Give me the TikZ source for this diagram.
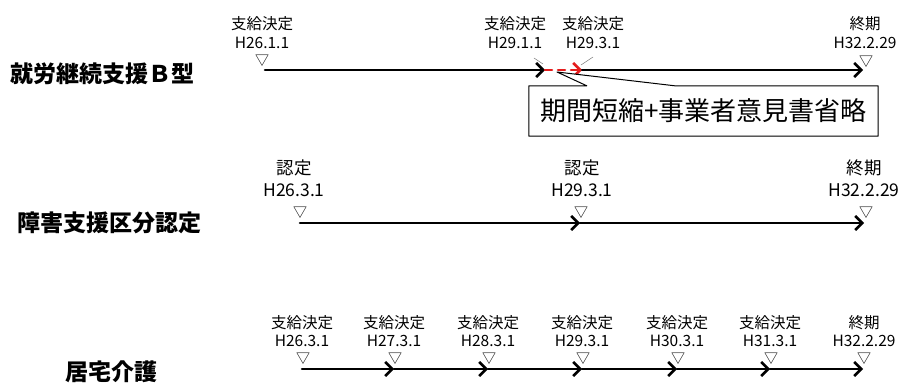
\documentclass[tikz,border=0pt]{standalone}
\usepackage{fontspec}
\setmainfont{Noto Sans CJK JP}
\usetikzlibrary{arrows.meta,calc}

\definecolor{cutred}{RGB}{228,28,28}
\definecolor{leadgray}{RGB}{120,120,120}

\tikzset{
  tline/.style={-{Straight Barb[length=7pt,width=14pt]},line width=2.6pt},
  cutline/.style={-{Straight Barb[length=7pt,width=14pt]},line width=2.6pt,color=cutred,dash pattern=on 7pt off 6pt},
  leader/.style={line width=0.5pt,leadgray},
  tri/.style={inner sep=0pt,font=\fontsize{14}{14}\selectfont},
  datelbl/.style={align=center,inner sep=0pt,font=\fontsize{15.5}{19}\selectfont},
  datelblb/.style={align=center,inner sep=0pt,font=\fontsize{17.5}{22}\selectfont},
  datelblc/.style={align=center,inner sep=0pt,font=\fontsize{15.5}{18}\selectfont},
  rowtitle/.style={anchor=west,inner sep=0pt,font=\fontsize{23}{23}\selectfont\bfseries},
}

\begin{document}
\begin{tikzpicture}[x=1pt,y=-1pt,line cap=round,line join=round]

\useasboundingbox (0,0) rectangle (910,385);

% row 1
\node[rowtitle] (t1) at (10,74) {就労継続支援Ｂ型};
\coordinate (b0) at (265,70);
\coordinate (b1) at (545,70);
\coordinate (b2) at (582,70);
\coordinate (b3) at (863,70);
\node[tri] (m0) at (262,61) {▽};
\node[tri] (m3) at (866,62) {▽};
\node[datelbl] (l0) at (262,33) {支給決定\\H26.1.1};
\node[datelbl] (l1) at (515,33) {支給決定\\H29.1.1};
\node[datelbl] (l2) at (593,33) {支給決定\\H29.3.1};
\node[datelbl] (l3) at (865,33) {終期\\H32.2.29};
\coordinate (k1a) at (534,58);
\coordinate (k1b) at (543,64);
\coordinate (k2a) at (593,57);
\coordinate (k2b) at (581,65);
\draw[leader] (k1a) -- (k1b);
\draw[leader] (k2a) -- (k2b);
\draw[tline] (b0) -- (b1);
\draw[cutline] (b1) -- (b2);
\draw[tline] (b2) -- (b3);
% callout
\coordinate (tip) at (557,72);
\node[minimum width=349pt,minimum height=50pt,inner sep=0pt,
  font=\fontsize{26}{26}\selectfont] (note) at (703.5,111) {期間短縮+事業者意見書省略};
\draw[line width=1pt,fill=white] (note.north west) -- ($(note.north west)+(58,0)$) -- (tip)
  -- ($(note.north west)+(146,0)$) -- (note.north east) -- (note.south east)
  -- (note.south west) -- cycle;
\node[font=\fontsize{26}{26}\selectfont] at (note) {期間短縮+事業者意見書省略};

% row 2
\node[rowtitle] (t2) at (17,223) {障害支援区分認定};
\coordinate (c0) at (300,223);
\coordinate (c1) at (580,223);
\coordinate (c2) at (864,223);
\node[tri] (n0) at (300,213) {▽};
\node[tri] (n1) at (581,213) {▽};
\node[tri] (n2) at (866,213) {▽};
\node[datelblb] (p0) at (294,178) {認定\\H26.3.1};
\node[datelblb] (p1) at (582,178) {認定\\H29.3.1};
\node[datelblb] (p2) at (864,178) {終期\\H32.2.29};
\draw[tline] (c0) -- (c1);
\draw[tline] (c1) -- (c2);

% row 3
\node[rowtitle] (t3) at (65,372) {居宅介護};
\coordinate (d0) at (302,369);
\coordinate (d1) at (394,369);
\coordinate (d2) at (488,369);
\coordinate (d3) at (582,369);
\coordinate (d4) at (677,369);
\coordinate (d5) at (770,369);
\coordinate (d6) at (863,369);
\foreach \p in {0,...,6} \node[tri] (o\p) at ($(d\p)+(1,-10)$) {▽};
\node[datelblc] (q0) at (302,331) {支給決定\\H26.3.1};
\node[datelblc] (q1) at (394,331) {支給決定\\H27.3.1};
\node[datelblc] (q2) at (488,331) {支給決定\\H28.3.1};
\node[datelblc] (q3) at (582,331) {支給決定\\H29.3.1};
\node[datelblc] (q4) at (677,331) {支給決定\\H30.3.1};
\node[datelblc] (q5) at (770,331) {支給決定\\H31.3.1};
\node[datelblc] (q6) at (864,331) {終期\\H32.2.29};
\foreach \a/\b in {0/1,1/2,2/3,3/4,4/5,5/6} \draw[tline] (d\a) -- (d\b);

\end{tikzpicture}
\end{document}
